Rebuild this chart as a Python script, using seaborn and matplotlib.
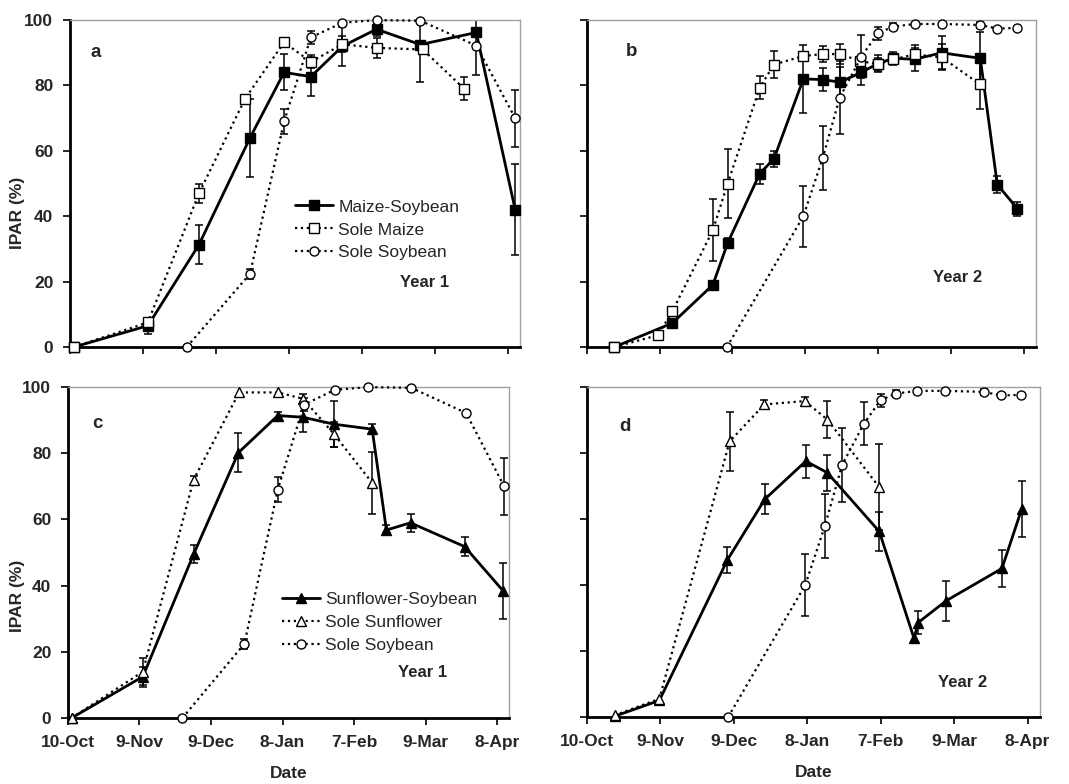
import numpy as np
import matplotlib
matplotlib.use("Agg")
import matplotlib.pyplot as plt
import seaborn as sns

# x values are days after 10-Oct
# ---- Year 1, maize (panel a) ----
ms1_day = [1.6, 32, 53, 74, 88, 99, 112, 126, 144, 167, 183]
ms1_val = [0, 6.5, 31.3, 64, 84, 82.7, 92, 97.2, 92.5, 96.2, 42]
ms1_err = [0, 2.5, 6, 12, 5.5, 6, 6, 2.2, 11.5, 13, 14]

sm1_day = [1.6, 32, 53, 72, 88, 99, 112, 126, 145, 162]
sm1_val = [0, 7.5, 47, 76, 93.2, 87.2, 92.6, 91.5, 91, 79]
sm1_err = [0, 1.5, 3, 0.8, 0, 2, 2.5, 3, 0, 3.5]

ss1_day = [48, 74, 88, 99, 112, 126, 144, 167, 183]
ss1_val = [0, 22.4, 69, 94.7, 99.2, 100, 99.8, 92.2, 70]
ss1_err = [0, 1.5, 3.8, 2, 0, 0, 0, 0, 8.7]

# ---- Year 2, maize (panel b) ----
ms2_day = [11.3, 35.2, 51.9, 58, 71.2, 77.1, 89.2, 97.2, 104.2, 113.1, 119.9, 126.3, 135, 146.2, 162.1, 169.1, 177.4]
ms2_val = [0, 7.3, 19, 31.8, 53, 57.6, 82, 81.8, 81, 84, 86.7, 88.3, 88, 90, 88.3, 49.7, 42.3]
ms2_err = [0, 0, 0.8, 1.5, 3, 2.5, 10.5, 3.5, 4.5, 4, 2.5, 2, 3.5, 5, 8, 2.5, 2.2]

sm2_day = [11.3, 29.3, 35.2, 51.9, 58, 71.2, 77.1, 89.2, 97.2, 104.2, 112.5, 119.9, 126.3, 135, 146.2, 162.1]
sm2_val = [0, 3.6, 10.9, 35.7, 50, 79.3, 86.4, 89, 89.6, 89.6, 87.5, 86.5, 88, 89.5, 88.6, 80.3]
sm2_err = [0, 0, 0, 9.5, 10.5, 3.5, 4, 0, 2.5, 3, 0, 2, 1.5, 3, 4, 7.5]

ss2_day = [57.7, 89.2, 97.2, 104.2, 113.1, 119.9, 126.3, 135, 146.2, 162.1, 169.1, 177.4]
ss2_val = [0, 40, 57.9, 76.3, 88.8, 96, 98, 98.8, 98.8, 98.5, 97.4, 97.6]
ss2_err = [0, 9.3, 9.8, 11.3, 6.5, 2, 1, 0, 0, 1, 0, 0]

# ---- Year 1, sunflower (panel c) ----
sf1_day = [1.5, 31.4, 52.7, 71.5, 88, 98.6, 111.6, 127.6, 133.6, 143.7, 166.4, 182.7]
sf1_val = [0, 12.5, 49.5, 80.2, 91.4, 90.9, 88.8, 87.3, 56.8, 59, 51.8, 38.3]
sf1_err = [0, 3, 2.8, 6, 1, 4.5, 7, 1.5, 1.5, 2.8, 2.8, 8.5]

ssf1_day = [1.5, 31.4, 52.7, 71.8, 88, 98.6, 111.6, 127.6]
ssf1_val = [0, 14, 72, 98.4, 98.4, 96.5, 85.8, 71.1]
ssf1_err = [0, 4, 1, 1.5, 1.5, 1.5, 3.8, 9.3]

# ---- Year 2, sunflower (panel d) ----
sf2_day = [11.3, 29.6, 57.4, 72.7, 89.4, 98.2, 119.4, 133.6, 135.3, 146.7, 169.5, 177.6]
sf2_val = [0.2, 5, 47.6, 66, 77.5, 74, 56.2, 23.8, 28.6, 35.2, 45, 63.1]
sf2_err = [0, 0, 4, 4.5, 5, 5.5, 6, 0, 3.5, 6, 5.5, 8.5]

ssf2_day = [11.3, 29.6, 58.3, 72.5, 89, 98.2, 119.3]
ssf2_val = [0.5, 5.5, 83.5, 94.7, 95.7, 90.1, 69.7]
ssf2_err = [0, 0, 9, 1.2, 1.2, 5.5, 13]

date_ticks = [0, 30, 60, 90, 120, 150, 180]
date_labels = ['10-Oct', '9-Nov', '9-Dec', '8-Jan', '7-Feb', '9-Mar', '8-Apr']

sns.set_style("ticks")
plt.rcParams['font.family'] = ['Liberation Sans', 'DejaVu Sans']

STYLES = {
    'filled_sq': dict(marker='s', markersize=6.5, markerfacecolor='black', linestyle='-', linewidth=2.0),
    'open_sq': dict(marker='s', markersize=6.5, markerfacecolor='white', linestyle=':', linewidth=1.6),
    'open_circ': dict(marker='o', markersize=6.5, markerfacecolor='white', linestyle=':', linewidth=1.6),
    'filled_tri': dict(marker='^', markersize=7, markerfacecolor='black', linestyle='-', linewidth=2.0),
    'open_tri': dict(marker='^', markersize=7, markerfacecolor='white', linestyle=':', linewidth=1.6),
}


def add_series(ax, day, val, err, style, label=None):
    err = np.array(err)
    d = np.array(day)
    v = np.array(val)
    m = err > 0
    ax.errorbar(d[m], v[m], yerr=err[m], fmt='none', ecolor='black',
                elinewidth=1.1, capsize=3, capthick=1.1, zorder=2)
    sns.lineplot(x=day, y=val, ax=ax, color='black', markeredgecolor='black',
                 markeredgewidth=1.0, clip_on=False, zorder=3, legend=False,
                 label=label, sort=False, **STYLES[style])


def style_axes(ax, bottom_row, left_col, ylab_pos=None):
    ax.set_xlim(0, 185)
    ax.set_ylim(0, 100)
    ax.set_xticks(date_ticks)
    ax.set_yticks([0, 20, 40, 60, 80, 100])
    for s in ['left', 'bottom']:
        ax.spines[s].set_color('black')
        ax.spines[s].set_linewidth(2.0)
    for s in ['top', 'right']:
        ax.spines[s].set_visible(True)
        ax.spines[s].set_color('#a0a0a0')
        ax.spines[s].set_linewidth(1.0)
    ax.tick_params(direction='out', length=5, width=1.2, color='black',
                   labelsize=12.5, pad=7)
    if bottom_row:
        ax.set_xticklabels(date_labels, fontweight='bold')
        ax.set_xlabel('Date', fontsize=12.5, fontweight='bold', labelpad=12)
    else:
        ax.set_xticklabels([])
        ax.set_xlabel('')
    if left_col:
        ax.set_yticklabels([str(t) for t in [0, 20, 40, 60, 80, 100]], fontweight='bold')
        ax.set_ylabel('IPAR (%)', fontsize=12.5, fontweight='bold')
        ax.yaxis.set_label_coords(*ylab_pos)
    else:
        ax.set_yticklabels([])
        ax.set_ylabel('')


fig = plt.figure(figsize=(10.69, 7.84), dpi=100)
ax_a = fig.add_axes([0.0655, 0.5574, 0.421, 0.417])
ax_b = fig.add_axes([0.549, 0.5574, 0.420, 0.417])
ax_c = fig.add_axes([0.0636, 0.0842, 0.4125, 0.422])
ax_d = fig.add_axes([0.549, 0.0855, 0.4238, 0.421])

# panel a
add_series(ax_a, ms1_day, ms1_val, ms1_err, 'filled_sq', 'Maize-Soybean')
add_series(ax_a, sm1_day, sm1_val, sm1_err, 'open_sq', 'Sole Maize')
add_series(ax_a, ss1_day, ss1_val, ss1_err, 'open_circ', 'Sole Soybean')
# panel b
add_series(ax_b, ms2_day, ms2_val, ms2_err, 'filled_sq')
add_series(ax_b, sm2_day, sm2_val, sm2_err, 'open_sq')
add_series(ax_b, ss2_day, ss2_val, ss2_err, 'open_circ')
# panel c
add_series(ax_c, sf1_day, sf1_val, sf1_err, 'filled_tri', 'Sunflower-Soybean')
add_series(ax_c, ssf1_day, ssf1_val, ssf1_err, 'open_tri', 'Sole Sunflower')
add_series(ax_c, ss1_day, ss1_val, ss1_err, 'open_circ', 'Sole Soybean')
# panel d
add_series(ax_d, sf2_day, sf2_val, sf2_err, 'filled_tri')
add_series(ax_d, ssf2_day, ssf2_val, ssf2_err, 'open_tri')
add_series(ax_d, ss2_day, ss2_val, ss2_err, 'open_circ')

style_axes(ax_a, False, True, (-0.1, 0.41))
style_axes(ax_b, False, False)
style_axes(ax_c, True, True, (-0.098, 0.37))
style_axes(ax_d, True, False)

for ax, anchor in [(ax_a, (0.50, 0.358)), (ax_c, (0.485, 0.29))]:
    ax.legend(loc='center left', bbox_to_anchor=anchor, frameon=False,
              fontsize=12.5, handlelength=2.2, handletextpad=0.3,
              labelspacing=0.45, borderpad=0, borderaxespad=0, numpoints=1)

for ax, letter, pos in [(ax_a, 'a', (0.058, 0.90)), (ax_b, 'b', (0.10, 0.905)),
                        (ax_c, 'c', (0.066, 0.89)), (ax_d, 'd', (0.084, 0.879))]:
    ax.text(pos[0], pos[1], letter, transform=ax.transAxes, fontsize=13.5,
            fontweight='bold', ha='center', va='center')

for ax, pos in [(ax_a, (0.787, 0.196)), (ax_b, (0.826, 0.214)),
                (ax_c, (0.805, 0.136)), (ax_d, (0.83, 0.103))]:
    ax.text(pos[0], pos[1], 'Year ' + ('1' if ax in (ax_a, ax_c) else '2'),
            transform=ax.transAxes, fontsize=12, fontweight='bold',
            ha='center', va='center')

fig.savefig('out.png', dpi=100)
plt.close(fig)
